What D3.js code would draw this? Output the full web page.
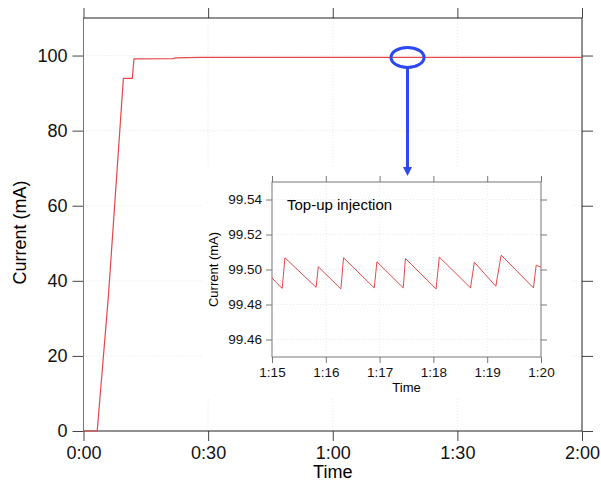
<!DOCTYPE html>
<meta charset="utf-8">
<style>
    body {
        margin: 0;
        background: white;
    }

    svg {
        font-family: "Liberation Sans", Arial, Helvetica, sans-serif;
    }

    .grid line {
        stroke: #dfe2f4;
        stroke-width: 0.8;
        stroke-dasharray: 1 2;
    }
</style>
<body>
<script src="https://cdn.jsdelivr.net/npm/d3@7"></script>
<script>
    // main record: minutes since start, beam current (mA)
    const mainTime    = [0, 3.3, 6.0, 9.6, 11.75, 12.15, 21.5, 22.2, 28, 120];
    const mainCurrent = [0, 0, 36, 93.9, 93.9, 99.1, 99.2, 99.4, 99.5, 99.5];

    // inset: top-up sawtooth between 1:15 and 1:20
    const insetTime = [75.0, 75.08, 75.19, 75.24, 75.82, 75.86, 76.28, 76.33, 76.90, 76.95,
                       77.44, 77.48, 78.05, 78.11, 78.69, 78.76, 79.16, 79.26, 79.86, 79.91, 80.0];
    const insetCurrent = [99.4952, 99.4925, 99.4892, 99.5067, 99.4898, 99.5016, 99.4889, 99.5067, 99.4895, 99.5044,
                          99.4895, 99.5063, 99.4889, 99.5071, 99.4895, 99.5042, 99.4904, 99.5082, 99.4895, 99.5025, 99.5013];

    const mainXTicks = [0, 30, 60, 90, 120];
    const mainYTicks = [0, 20, 40, 60, 80, 100];
    const insetXTicks = [75, 76, 77, 78, 79, 80];
    const insetYTicks = [99.46, 99.48, 99.50, 99.52, 99.54];

    const width = 601, height = 485;
    const timeFmt = m => Math.floor(m / 60) + ":" + d3.format("02d")(Math.round(m % 60));

    const svg = d3.select("body").append("svg")
        .attr("width", width)
        .attr("height", height);

    // ---------- main chart ----------
    const x = d3.scaleLinear().domain([0, 120]).range([83.5, 582]);
    const y = d3.scaleLinear().domain([0, 110]).range([431, 18]);

    const grid = svg.append("g").attr("class", "grid");
    grid.selectAll(".gx").data(mainXTicks.slice(1, -1)).enter().append("line")
        .attr("x1", d => x(d)).attr("x2", d => x(d))
        .attr("y1", y.range()[1]).attr("y2", y.range()[0]);
    grid.selectAll(".gy").data(mainYTicks.slice(1)).enter().append("line")
        .attr("x1", x.range()[0]).attr("x2", x.range()[1])
        .attr("y1", d => y(d)).attr("y2", d => y(d));

    const styleAxis = (g, color) => {
        g.select(".domain").remove();
        g.selectAll(".tick line").attr("stroke", color);
    };

    svg.append("g")
        .attr("transform", "translate(0," + y.range()[0] + ")")
        .call(d3.axisBottom(x).tickValues(mainXTicks).tickFormat(timeFmt).tickSize(10).tickPadding(5))
        .call(g => styleAxis(g, "#444"))
        .selectAll("text").attr("font-size", 18).attr("fill", "#111").attr("font-family", null);

    svg.append("g")
        .attr("transform", "translate(0," + y.range()[1] + ")")
        .call(d3.axisTop(x).tickValues(mainXTicks).tickFormat("").tickSize(10))
        .call(g => styleAxis(g, "#444"));

    svg.append("g")
        .attr("transform", "translate(" + x.range()[0] + ",0)")
        .call(d3.axisLeft(y).tickValues(mainYTicks).tickSize(11).tickPadding(5))
        .call(g => styleAxis(g, "#444"))
        .selectAll("text").attr("font-size", 18).attr("fill", "#111").attr("font-family", null);

    svg.append("g")
        .attr("transform", "translate(" + x.range()[1] + ",0)")
        .call(d3.axisRight(y).tickValues(mainYTicks).tickFormat("").tickSize(11))
        .call(g => styleAxis(g, "#444"));

    // frame
    svg.append("path")
        .attr("d", "M" + x.range()[0] + "," + y.range()[0] + "V" + y.range()[1])
        .attr("stroke", "#777").attr("fill", "none");
    svg.append("path")
        .attr("d", "M" + x.range()[0] + "," + y.range()[1] + "H" + x.range()[1] + "V" + y.range()[0] + "H" + x.range()[0])
        .attr("stroke", "#222").attr("fill", "none");

    const mainLine = d3.line()
        .x((d, i) => x(mainTime[i]))
        .y(d => y(d));

    svg.append("path")
        .datum(mainCurrent)
        .attr("d", mainLine)
        .attr("fill", "none")
        .attr("stroke", "#e5484a")
        .attr("stroke-width", 1.2);

    svg.append("text")
        .attr("transform", "translate(26," + ((y.range()[0] + y.range()[1]) / 2 + 8) + ") rotate(-90)")
        .attr("text-anchor", "middle")
        .attr("font-size", 18)
        .text("Current (mA)");

    svg.append("text")
        .attr("x", (x.range()[0] + x.range()[1]) / 2)
        .attr("y", 478)
        .attr("text-anchor", "middle")
        .attr("font-size", 18)
        .text("Time");

    // ---------- annotation ----------
    const cx = x(78), cy = y(99.5);
    svg.append("ellipse")
        .attr("cx", cx).attr("cy", cy)
        .attr("rx", 16.5).attr("ry", 10)
        .attr("fill", "none")
        .attr("stroke", "#2c48ee")
        .attr("stroke-width", 3);

    // ---------- inset ----------
    const ix = d3.scaleLinear().domain([75, 80]).range([272, 541]);
    const iy = d3.scaleLinear().domain([99.45, 99.55]).range([357, 182]);

    const inset = svg.append("g").attr("class", "inset");

    inset.append("rect")
        .attr("x", 202).attr("y", 168)
        .attr("width", 370).attr("height", 229)
        .attr("fill", "white");

    const igrid = inset.append("g").attr("class", "grid");
    igrid.selectAll(".gx").data(insetXTicks.slice(1, -1)).enter().append("line")
        .attr("x1", d => ix(d)).attr("x2", d => ix(d))
        .attr("y1", iy.range()[1]).attr("y2", iy.range()[0]);
    igrid.selectAll(".gy").data(insetYTicks).enter().append("line")
        .attr("x1", ix.range()[0]).attr("x2", ix.range()[1])
        .attr("y1", d => iy(d)).attr("y2", d => iy(d));

    inset.append("g")
        .attr("transform", "translate(0," + iy.range()[0] + ")")
        .call(d3.axisBottom(ix).tickValues(insetXTicks).tickFormat(timeFmt).tickSize(6).tickPadding(4))
        .call(g => styleAxis(g, "#777"))
        .selectAll("text").attr("font-size", 13.5).attr("fill", "#111").attr("font-family", null);

    inset.append("g")
        .attr("transform", "translate(0," + iy.range()[1] + ")")
        .call(d3.axisTop(ix).tickValues(insetXTicks).tickFormat("").tickSize(6))
        .call(g => styleAxis(g, "#777"));

    inset.append("g")
        .attr("transform", "translate(" + ix.range()[0] + ",0)")
        .call(d3.axisLeft(iy).tickValues(insetYTicks).tickFormat(d3.format(".2f")).tickSize(6).tickPadding(4))
        .call(g => styleAxis(g, "#777"))
        .selectAll("text").attr("font-size", 13.5).attr("fill", "#111").attr("font-family", null);

    inset.append("g")
        .attr("transform", "translate(" + ix.range()[1] + ",0)")
        .call(d3.axisRight(iy).tickValues(insetYTicks).tickFormat("").tickSize(6))
        .call(g => styleAxis(g, "#777"));

    inset.append("rect")
        .attr("x", ix.range()[0]).attr("y", iy.range()[1])
        .attr("width", ix.range()[1] - ix.range()[0])
        .attr("height", iy.range()[0] - iy.range()[1])
        .attr("fill", "none")
        .attr("stroke", "#777");

    const insetLine = d3.line()
        .x((d, i) => ix(insetTime[i]))
        .y(d => iy(d));

    inset.append("path")
        .datum(insetCurrent)
        .attr("d", insetLine)
        .attr("fill", "none")
        .attr("stroke", "#e5484a")
        .attr("stroke-width", 1);

    inset.append("text")
        .attr("x", 287).attr("y", 210)
        .attr("font-size", 15)
        .text("Top-up injection");

    inset.append("text")
        .attr("transform", "translate(218," + ((iy.range()[0] + iy.range()[1]) / 2) + ") rotate(-90)")
        .attr("text-anchor", "middle")
        .attr("font-size", 13)
        .text("Current (mA)");

    inset.append("text")
        .attr("x", (ix.range()[0] + ix.range()[1]) / 2)
        .attr("y", 392)
        .attr("text-anchor", "middle")
        .attr("font-size", 13)
        .text("Time");

    // arrow from the ellipse down to the inset
    const tipY = 176;
    svg.append("line")
        .attr("x1", cx).attr("x2", cx)
        .attr("y1", cy + 10).attr("y2", tipY - 7)
        .attr("stroke", "#2c48ee")
        .attr("stroke-width", 3);
    svg.append("path")
        .attr("d", "M" + (cx - 4.5) + "," + (tipY - 9) + "L" + (cx + 4.5) + "," + (tipY - 9) + "L" + cx + "," + tipY + "Z")
        .attr("fill", "#2c48ee");
</script>
</body>
</html>
